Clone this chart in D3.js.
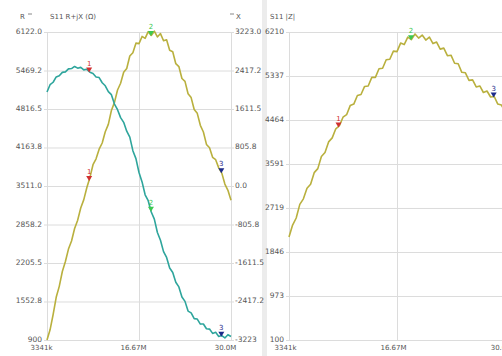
<!DOCTYPE html>
<html>
<head>
<meta charset="utf-8">
<script src="https://cdn.jsdelivr.net/npm/d3@7"></script>
<style>
  html, body { margin: 0; padding: 0; background: #fff; }
  svg { display: block; }
  text { font-family: "DejaVu Sans", sans-serif; fill: #555; }
</style>
</head>
<body>
<svg id="chart" width="502" height="356"></svg>
<script>
// ---------- data (frequency in MHz) ----------
const freqMHz = [3.341, 3.785, 4.230, 4.674, 5.118, 5.563, 6.007, 6.451, 6.896, 7.340,
  7.784, 8.228, 8.673, 9.117, 9.561, 10.006, 10.450, 10.894, 11.339, 11.783,
  12.227, 12.672, 13.116, 13.560, 14.005, 14.449, 14.893, 15.338, 15.782, 16.226,
  16.671, 17.115, 17.559, 18.003, 18.448, 18.892, 19.336, 19.781, 20.225, 20.669,
  21.114, 21.558, 22.002, 22.447, 22.891, 23.335, 23.780, 24.224, 24.668, 25.113,
  25.557, 26.001, 26.446, 26.890, 27.334, 27.778, 28.223, 28.667, 29.111, 29.556, 30.000];

const rOhm = [5105, 5228, 5270, 5361, 5380, 5438, 5446, 5497, 5502, 5538,
  5509, 5522, 5480, 5489, 5440, 5418, 5360, 5350, 5262, 5210,
  5112, 5060, 4901, 4805, 4670, 4590, 4441, 4340, 4110, 3975,
  3740, 3580, 3362, 3262, 3070, 2950, 2722, 2590, 2398, 2300,
  2120, 2045, 1878, 1800, 1630, 1555, 1390, 1360, 1262, 1255,
  1170, 1172, 1090, 1085, 1012, 1030, 960, 975, 935, 990, 960];

const xOhm = [-3223, -3010, -2690, -2330, -2100, -1790, -1580, -1320, -1150, -890,
  -715, -460, -285, -30, 180, 445, 570, 770, 900, 1135,
  1290, 1580, 1750, 2010, 2150, 2380, 2460, 2720, 2790, 2990,
  2980, 3130, 3090, 3230, 3150, 3240, 3120, 3190, 3040, 3060,
  2840, 2810, 2560, 2500, 2250, 2190, 1930, 1850, 1600, 1520,
  1270, 1130, 870, 800, 600, 550, 380, 270, 40, -90, -300];

const zOhm = [2143, 2380, 2520, 2790, 2900, 3110, 3190, 3420, 3500, 3740,
  3820, 4030, 4110, 4290, 4350, 4520, 4570, 4750, 4780, 4950,
  4970, 5130, 5140, 5310, 5310, 5480, 5490, 5660, 5670, 5830,
  5820, 5990, 5960, 6110, 6060, 6170, 6090, 6150, 6050, 6110,
  5980, 6010, 5870, 5890, 5740, 5750, 5590, 5580, 5410, 5400,
  5250, 5260, 5120, 5140, 5010, 5040, 4920, 4930, 4780, 4760, 4640];

const markerFreqs = [9.45, 18.4, 28.6];
const markerNames = ["1", "2", "3"];

const xTickValues = [3.341, 16.6705, 30.0];
const xTickLabels = ["3341k", "16.67M", "30.0M"];
const rTickValues = [6122.0, 5469.2, 4816.5, 4163.8, 3511.0, 2858.2, 2205.5, 1552.8, 900];
const rTickLabels = ["6122.0", "5469.2", "4816.5", "4163.8", "3511.0", "2858.2", "2205.5", "1552.8", "900"];
const xrTickValues = [3223.0, 2417.2, 1611.5, 805.8, 0.0, -805.8, -1611.5, -2417.2, -3223];
const xrTickLabels = ["3223.0", "2417.2", "1611.5", "805.8", "0.0", "-805.8", "-1611.5", "-2417.2", "-3223"];
const zTickValues = [6210, 5337, 4464, 3591, 2719, 1846, 973, 100];
const zTickLabels = ["6210", "5337", "4464", "3591", "2719", "1846", "973", "100"];

// ---------- styles ----------
const colR = "#2ea59c";
const colX = "#b9b03e";
const markerColors = ["#d03030", "#3cc850", "#1c2a8a"];
const gridCol = "#dcdcdc";

const svg = d3.select("#chart");
svg.append("rect").attr("x", 262).attr("y", 0).attr("width", 5).attr("height", 356).attr("fill", "#ececec");

const plotTop = 32, plotBottom = 340;

function lbl(values, labels) {
  return d => labels[values.indexOf(d)];
}

function interp(series, f) {
  const i = d3.bisectRight(freqMHz, f);
  const i0 = Math.max(0, i - 1), i1 = Math.min(freqMHz.length - 1, i);
  if (i0 === i1) return series[i0];
  const t = (f - freqMHz[i0]) / (freqMHz[i1] - freqMHz[i0]);
  return series[i0] + t * (series[i1] - series[i0]);
}

function gridAndAxes(g, xs, left, right, ysLeft, leftVals, leftLabs, ysRight, rightVals, rightLabs, xShift) {
  // horizontal grid lines with left labels (tick extends 3px outside)
  const la = d3.axisLeft(ysLeft).tickValues(leftVals).tickFormat(lbl(leftVals, leftLabs))
    .tickSize(0).tickPadding(5);
  const gl = g.append("g").attr("transform", `translate(${left},0)`).call(la);
  gl.select(".domain").remove();
  gl.selectAll(".tick line")
    .attr("x1", -3).attr("x2", right - left + (ysRight ? 3 : 0))
    .attr("stroke", gridCol);
  gl.selectAll("text").attr("font-size", "7.5px").attr("dy", "0.2em");

  if (ysRight) {
    const ra = d3.axisRight(ysRight).tickValues(rightVals).tickFormat(lbl(rightVals, rightLabs))
      .tickSize(0).tickPadding(4);
    const gr = g.append("g").attr("transform", `translate(${right},0)`).call(ra);
    gr.select(".domain").remove();
    gr.selectAll("text").attr("font-size", "7.5px").attr("dy", "0.2em");
  }

  // vertical grid + x labels
  const xa = d3.axisBottom(xs).tickValues(xTickValues).tickFormat(lbl(xTickValues, xTickLabels))
    .tickSize(-(plotBottom - plotTop)).tickPadding(5);
  const gx = g.append("g").attr("transform", `translate(0,${plotBottom})`).call(xa);
  gx.select(".domain").remove();
  gx.selectAll(".tick line").attr("stroke", gridCol);
  gx.selectAll("text").attr("font-size", "7px").attr("dx", xShift);
}

function drawMarkers(g, xs, ys, series) {
  markerFreqs.forEach((f, k) => {
    const px = xs(f), py = ys(interp(series, f));
    g.append("path")
      .attr("d", `M${px - 3},${py - 4}L${px + 3},${py - 4}L${px},${py + 1}Z`)
      .attr("fill", markerColors[k]);
    g.append("text").attr("x", px).attr("y", py - 6).attr("text-anchor", "middle")
      .attr("font-size", "7px").style("fill", markerColors[k]).text(markerNames[k]);
  });
}

// ---------- left panel: R + jX ----------
const L0 = 47, L1 = 231;
const xL = d3.scaleLinear().domain([3.341, 30]).range([L0, L1]);
const yR = d3.scaleLinear().domain([900, 6122]).range([plotBottom, plotTop]);
const yX = d3.scaleLinear().domain([-3223, 3223]).range([plotBottom, plotTop]);
const gL = svg.append("g");
gridAndAxes(gL, xL, L0, L1, yR, rTickValues, rTickLabels, yX, xrTickValues, xrTickLabels, -6);

const lineR = d3.line().x((d, i) => xL(freqMHz[i])).y(d => yR(d));
const lineX = d3.line().x((d, i) => xL(freqMHz[i])).y(d => yX(d));
gL.append("path").datum(xOhm).attr("d", lineX).attr("fill", "none").attr("stroke", colX).attr("stroke-width", 1.6).attr("stroke-linejoin", "round");
gL.append("path").datum(rOhm).attr("d", lineR).attr("fill", "none").attr("stroke", colR).attr("stroke-width", 1.6).attr("stroke-linejoin", "round");
drawMarkers(gL, xL, yR, rOhm);
drawMarkers(gL, xL, yX, xOhm);

svg.append("text").attr("x", 20).attr("y", 19).attr("font-size", "7px").text("R");
svg.append("line").attr("x1", 28).attr("x2", 32).attr("y1", 14).attr("y2", 14).attr("stroke", "#888");
svg.append("text").attr("x", 50).attr("y", 19).attr("font-size", "7px").text("S11 R+jX (Ω)");
svg.append("line").attr("x1", 230).attr("x2", 234).attr("y1", 14).attr("y2", 14).attr("stroke", "#888");
svg.append("text").attr("x", 236).attr("y", 19).attr("font-size", "7px").text("X");

// ---------- right panel: |Z| ----------
const R0 = 289, R1 = 505;
const xRp = d3.scaleLinear().domain([3.341, 30]).range([R0, R1]);
const yZ = d3.scaleLinear().domain([100, 6210]).range([plotBottom, plotTop]);
const gR = svg.append("g");
gridAndAxes(gR, xRp, R0, R1, yZ, zTickValues, zTickLabels, null, null, null, -4);
const lineZ = d3.line().x((d, i) => xRp(freqMHz[i])).y(d => yZ(d));
gR.append("path").datum(zOhm).attr("d", lineZ).attr("fill", "none").attr("stroke", colX).attr("stroke-width", 1.6).attr("stroke-linejoin", "round");
drawMarkers(gR, xRp, yZ, zOhm);
svg.append("text").attr("x", 270).attr("y", 19).attr("font-size", "7px").text("S11 |Z|");
</script>
</body>
</html>
